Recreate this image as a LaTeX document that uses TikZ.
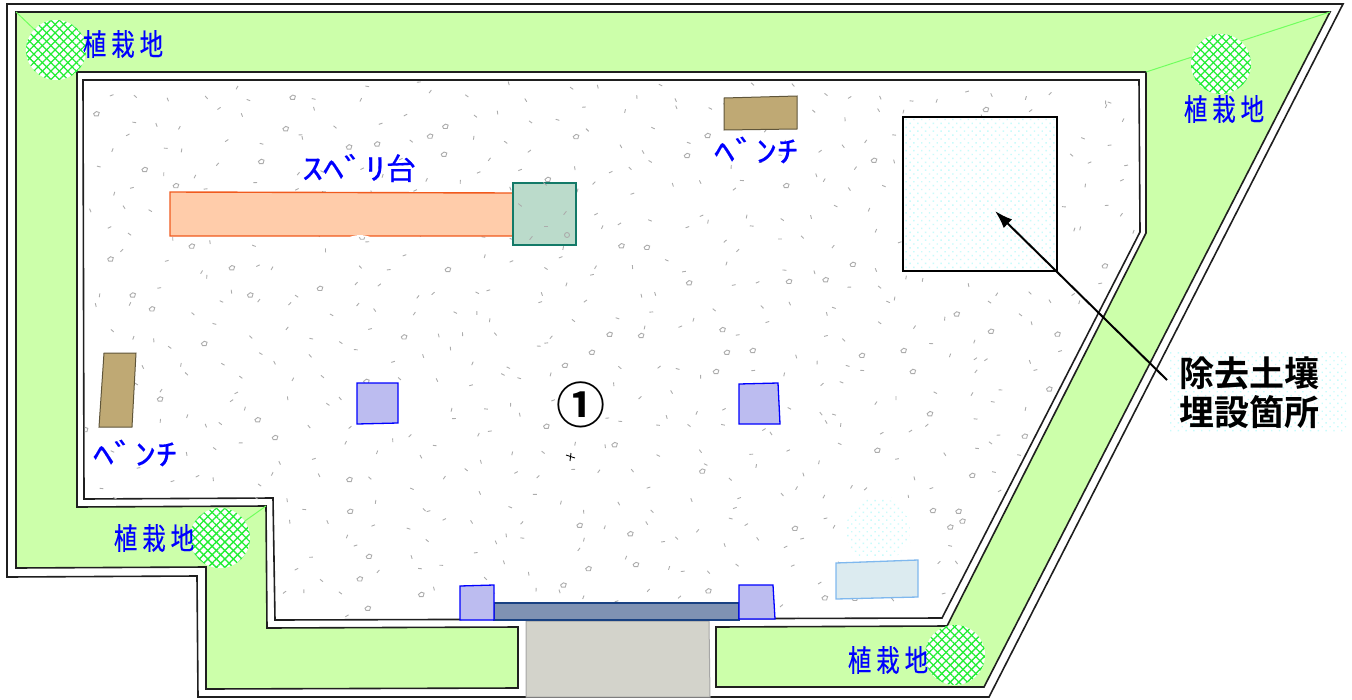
\documentclass[tikz,border=0pt]{standalone}
\usepackage{fontspec}
\usetikzlibrary{patterns.meta,arrows.meta}
\newfontfamily\plotfont[FakeStretch=0.78,FakeBold=0.4]{Noto Sans CJK JP}
\newfontfamily\kanafont[FakeStretch=1.4,FakeBold=0.4]{Noto Sans CJK JP}
\newfontfamily\wordfont[FakeBold=0.4]{Noto Sans CJK JP}
\newfontfamily\notefont{Noto Sans CJK JP Bold}
\definecolor{lawn}{HTML}{CCFFAA}
\definecolor{post}{HTML}{BCBCF0}
\definecolor{speck}{HTML}{ACACAC}
\definecolor{bench}{HTML}{BFA974}
\definecolor{treegreen}{HTML}{22EE33}
\definecolor{paleblue}{HTML}{C8FBFB}
\tikzset{
  lawnline/.style={line width=1.6pt,draw=black!88},
  speckline/.style={line width=.9pt,draw=speck},
  benchbox/.style={fill=bench,draw=bench!50!black,line width=1pt},
  postbox/.style={fill=post,draw=blue,line width=1.3pt},
  treedots/.style={fill=white,postaction={pattern={Lines[angle=45,distance=6pt,line width=1.3pt]},pattern color=treegreen},
    postaction={pattern={Lines[angle=-45,distance=6pt,line width=1.3pt]},pattern color=treegreen}},
  paledots/.style={pattern={Dots[radius=1pt,distance=5.5pt,angle=45]},pattern color=paleblue},
  sign/.style={text=blue,font=\plotfont\fontsize{30}{32}\selectfont,inner sep=0pt},
  kanasign/.style={text=blue,font=\kanafont\fontsize{30}{32}\selectfont,inner sep=0pt},
}
\begin{document}
\begin{tikzpicture}[x=1pt,y=-1pt]
  \useasboundingbox (0,0) rectangle (1352,699);
  \draw[lawnline] (7,4) -- (1343,4) -- (989,697) -- (198,697) -- (197,576) -- (7,577) -- cycle;
  \draw[lawnline,fill=lawn] (16,12) -- (1330,12) -- (984,687) -- (716,687) -- (716,627) -- (947,626)
    -- (1146,233) -- (1146,72) -- (77,72) -- (77,507) -- (266,506) -- (267,628) -- (518,627)
    -- (518,688) -- (206,689) -- (206,567) -- (16,568) -- cycle;
  \draw[lawnline] (83,80) -- (1139,80) -- (1140,232) -- (942,618) -- (275,620) -- (273,498) -- (84,499) -- cycle;
  \begin{scope}[green!45!lawn,line width=1pt]
    \draw (16,12) -- (56,50);
    \draw (1146,72) -- (1330,12);
    \draw (266,506) -- (221,538);
  \end{scope}
  % gravel
  \begin{scope}
    \clip (84,81) -- (1138,81) -- (1139,232) -- (941,617) -- (276,619) -- (274,499) -- (85,500) -- cycle;
    \pgfmathsetseed{4217}
    \foreach \gx in {85,116,...,1140}{
      \foreach \gy in {82,106,...,620}{
        \pgfmathsetmacro\px{\gx+rnd*30}
        \pgfmathsetmacro\py{\gy+rnd*23}
        \pgfmathsetmacro\pa{rnd*180}
        \pgfmathtruncatemacro\pk{rnd*7}
        \ifnum\pk=0
          \draw[speckline] (\px,\py) +(-2.8,0) -- +(0,-2.2) -- +(2.8,-1.2) -- +(1.8,2.2) -- +(-1.8,2.2) -- cycle;
        \else
          \draw[speckline] (\px,\py) +(\pa:1.9) -- +(\pa+180:1.9);
        \fi
      }
    }
  \end{scope}
  % slide
  \draw[fill={rgb,255:red,255;green,204;blue,170},draw={rgb,255:red,240;green,90;blue,30},line width=1.4pt] (170,192) -- (513,193) -- (513,236) -- (170,236) -- cycle;
  \fill[white] (350,237) .. controls (355,234.5) and (365,234.5) .. (370,237) -- cycle;
  \draw[fill={rgb,255:red,187;green,219;blue,203},draw={rgb,255:red,19;green,122;blue,104},line width=1.4pt] (513,183) rectangle (576,245);
  \foreach \sx/\sy/\sa in {520/205/40,565/213/130,546/226/0,531/238/130,545/184/40}{
    \draw[speckline] (\sx,\sy) +(\sa:2.2) -- +(\sa+180:2.2);
  }
  \draw[speckline] (567,235) circle (2.5);
  % benches
  \draw[benchbox] (724,98) -- (797,96) -- (797,129) -- (724,130) -- cycle;
  \draw[benchbox] (104,353) -- (136,353) -- (132,427) -- (99,427) -- cycle;
  % posts
  \draw[postbox] (357,383) -- (398,383) -- (398,423) -- (357,424) -- cycle;
  \draw[postbox] (739,384) -- (778,383) -- (780,424) -- (739,424) -- cycle;
  % entrance
  \draw[fill={rgb,255:red,211;green,211;blue,203},draw=gray!70,line width=1pt] (526,621) -- (709,621) -- (710,697) -- (526,697) -- cycle;
  \draw[fill={rgb,255:red,127;green,146;blue,179},draw={rgb,255:red,25;green,65;blue,130},line width=1.2pt] (494,603) rectangle (739,620);
  \draw[postbox] (460,586) -- (494,585) -- (494,620) -- (460,620) -- cycle;
  \draw[postbox] (739,585) -- (773,585) -- (775,619) -- (739,619) -- cycle;
  % pale patches
  \fill[white] (846,498) rectangle (910,558);
  \draw[paledots,draw=none] (878,530) circle (32);
  \fill[white] (845,558) rectangle (920,566);
  \draw[fill={rgb,255:red,220;green,235;blue,240},draw={rgb,255:red,127;green,184;blue,238},line width=1.3pt] (836,563) -- (918,560) -- (918,597) -- (836,599) -- cycle;
  \fill[paledots] (1170,352) rectangle (1346,432);
  \fill[white] (903,117) rectangle (1057,271);
  \draw[paledots,draw=black,line width=1.6pt] (903,117) rectangle (1057,271);
  % trees
  \draw[treedots,draw=none] (56,50) circle (30);
  \draw[treedots,draw=none] (1221,64) circle (30);
  \draw[treedots,draw=none] (220,538) circle (30);
  \draw[treedots,draw=none] (955,655) circle (30);
  % labels
  \fill[white] (558,382) rectangle (604,428);
  \draw
    (123,44) node[sign] (lawna){植\,栽\,地}
    (1224,109) node[sign] (lawnb){植\,栽\,地}
    (154,538) node[sign] (lawnc){植\,栽\,地}
    (888,660) node[sign] (lawnd){植\,栽\,地}
    (359,168) node[kanasign] (slide){ｽﾍﾞﾘ\wordfont 台}
    (756,150) node[kanasign] (benchtop){ﾍﾞﾝﾁ}
    (135,453) node[kanasign] (benchleft){ﾍﾞﾝﾁ}
    (581,405) node[inner sep=0pt,font=\notefont\fontsize{49}{49}\selectfont] (area){①}
    (1249,393) node[inner sep=0pt,align=center,font=\notefont\fontsize{35}{39}\selectfont] (note){除去土壤\\埋設箇所};
  \coordinate (notetail) at (1167,380);
  \coordinate (burial) at (995,211);
  \draw[-{Latex[length=18pt,width=12pt]},line width=2pt] (notetail) -- (burial);
  \draw[line width=.9pt] (566,455) -- (575,458);
  \draw[line width=.9pt] (571,453) -- (570,461);
\end{tikzpicture}
\end{document}
